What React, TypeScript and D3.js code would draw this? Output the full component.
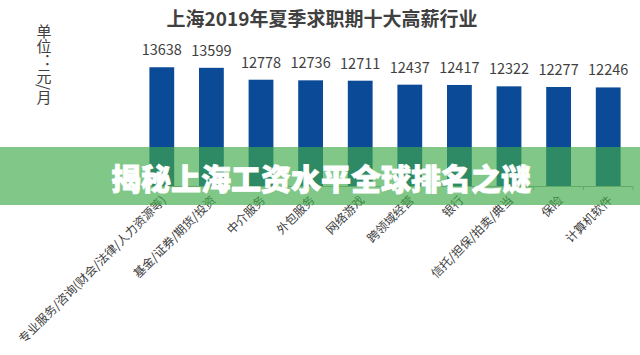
import * as d3 from "d3";

const industries = [
  "专业服务/咨询(财会/法律/人力资源等)",
  "基金/证券/期货/投资",
  "中介服务",
  "外包服务",
  "网络游戏",
  "跨领域经营",
  "银行",
  "信托/担保/拍卖/典当",
  "保险",
  "计算机软件",
];
const salaries = [13638, 13599, 12778, 12736, 12711, 12437, 12417, 12322, 12277, 12246];

const W = 640;
const H = 355;
const FONT = "'Noto Sans CJK SC', 'Noto Sans', sans-serif";

const App = () => {
  // band scale spanning the axis line
  const x = d3
    .scaleBand<string>()
    .domain(industries)
    .range([137, 633])
    .paddingInner(0.5)
    .paddingOuter(0.25);
  const y = d3.scaleLinear().domain([5450, 14000]).range([186, 62]);
  const step = x.step();
  const baseY = y(5450);

  // ticks sit between categories
  const tickXs = industries.map((d) => x(d)! - step * 0.25);
  tickXs.push(x(industries[industries.length - 1])! + x.bandwidth() + step * 0.25);

  return (
    <div style={{ position: "fixed", left: 0, top: 0, width: W, height: H, background: "#fff" }}>
      <svg width={W} height={H} style={{ display: "block", fontFamily: FONT }}>
        <rect width={W} height={H} fill="#fff" />
        <text x={322} y={26} textAnchor="middle" fontSize={19} fontWeight={700} fill="#404040">
          上海2019年夏季求职期十大高薪行业
        </text>
        <text
          x={44}
          y={24}
          fontSize={15}
          fill="#404040"
          style={{ writingMode: "vertical-rl" }}
        >
          单位：元/月
        </text>

        {industries.map((d, i) => (
          <g key={d}>
            <rect
              x={x(d)}
              y={y(salaries[i])}
              width={x.bandwidth()}
              height={baseY - y(salaries[i])}
              fill="#0b4a97"
            />
            <text
              x={x(d)! + x.bandwidth() / 2}
              y={y(salaries[i]) - 12}
              textAnchor="middle"
              fontSize={14.5}
              fill="#404040"
            >
              {salaries[i]}
            </text>
            <text
              transform={`translate(${x(d)! + x.bandwidth() / 2 + 5},${baseY + 15}) rotate(-45)`}
              textAnchor="end"
              fontSize={12}
              fill="#404040"
            >
              {d}
            </text>
          </g>
        ))}

        <line x1={137} x2={633} y1={baseY + 0.5} y2={baseY + 0.5} stroke="#a6a6a6" />
        {tickXs.map((tx, i) => (
          <line key={i} x1={tx} x2={tx} y1={baseY} y2={baseY + 4} stroke="#a6a6a6" />
        ))}

        {/* overlay banner */}
        <rect x={0} y={147} width={W} height={58} fill="#3fab4b" opacity={0.66} />
        <text
          x={321}
          y={190}
          textAnchor="middle"
          fontSize={30}
          fontWeight={900}
          fill="#fff"
          stroke="#fff"
          strokeWidth={0.8}
        >
          揭秘上海工资水平全球排名之谜
        </text>
      </svg>
    </div>
  );
};

export default App;
